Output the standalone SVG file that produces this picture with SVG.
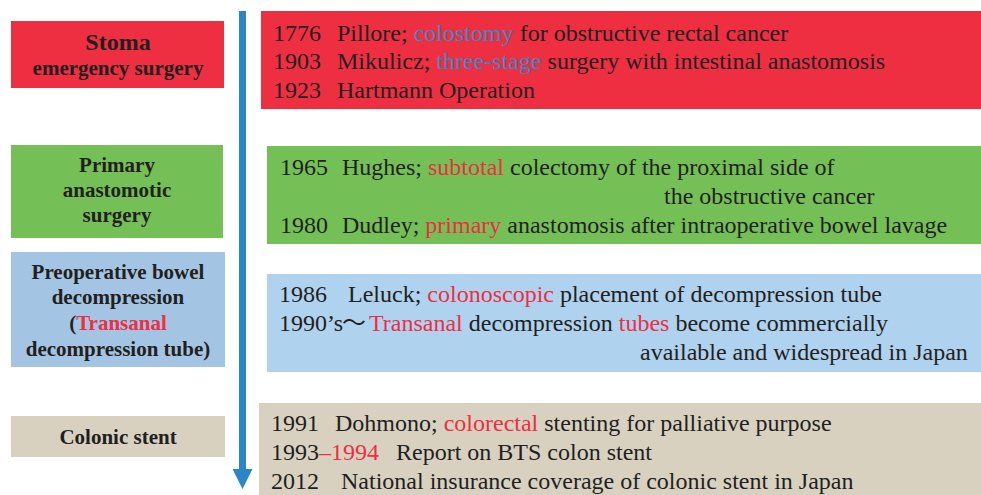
<svg xmlns="http://www.w3.org/2000/svg" width="981" height="495" viewBox="0 0 981 495">
<style>
.lbl{font-family:"Liberation Serif","Times New Roman",serif;font-weight:bold;fill:#231F20;text-anchor:middle;font-size:21px}
.txt{font-family:"Liberation Serif","Times New Roman",serif;fill:#231F20;font-size:24px}
.r{fill:#EE2E42}
.b{fill:#3A86C4}
</style>
<defs>
<marker id="ah" viewBox="0 0 20 20" refX="0" refY="10" markerWidth="20" markerHeight="20" markerUnits="userSpaceOnUse" orient="auto"><path d="M0,0 L20,10 L0,20 Z" fill="#2A86C6"/></marker>
</defs>
<rect width="981" height="495" fill="#FFFFFF"/>
<g id="connectors">
<line x1="242.5" y1="11" x2="242.5" y2="469" stroke="#2A86C6" stroke-width="7" marker-end="url(#ah)"/>
</g>
<g id="stoma">
<rect x="11" y="21" width="213" height="67" fill="#EE2F42"/>
<text class="lbl" x="118" y="50" style="font-size:24px">Stoma</text>
<text class="lbl" x="118" y="75">emergency surgery</text>
</g>
<g id="primary">
<rect x="11" y="145" width="212" height="93" fill="#74BF56"/>
<text class="lbl" x="117" y="172">Primary</text>
<text class="lbl" x="117" y="197">anastomotic</text>
<text class="lbl" x="117" y="222">surgery</text>
</g>
<g id="decompression">
<rect x="11" y="252" width="214" height="115" fill="#A3C5E3"/>
<text class="lbl" x="118" y="279">Preoperative bowel</text>
<text class="lbl" x="118" y="304">decompression</text>
<text class="lbl" x="118" y="330">(<tspan class="r">Transanal</tspan></text>
<text class="lbl" x="118" y="356">decompression tube)</text>
</g>
<g id="stent">
<rect x="11" y="416" width="214" height="41" fill="#D8D1C0"/>
<text class="lbl" x="118" y="444">Colonic stent</text>
</g>
<g id="stoma-events">
<rect x="261" y="11" width="720" height="98" fill="#EE2F42"/>
<text class="txt" x="273" y="41">1776</text>
<text class="txt" x="337" y="41">Pillore; <tspan class="b">colostomy</tspan> for obstructive rectal cancer</text>
<text class="txt" x="273" y="69">1903</text>
<text class="txt" x="337" y="69">Mikulicz; <tspan class="b">three-stage</tspan> surgery with intestinal anastomosis</text>
<text class="txt" x="273" y="98">1923</text>
<text class="txt" x="337" y="98">Hartmann Operation</text>
</g>
<g id="primary-events">
<rect x="267" y="146" width="714" height="98" fill="#74BF56"/>
<text class="txt" x="280" y="175">1965</text>
<text class="txt" x="342" y="175">Hughes; <tspan class="r">subtotal</tspan> colectomy of the proximal side of</text>
<text class="txt" x="664" y="204">the obstructive cancer</text>
<text class="txt" x="280" y="233">1980</text>
<text class="txt" x="342" y="233">Dudley; <tspan class="r">primary</tspan> anastomosis after intraoperative bowel lavage</text>
</g>
<g id="decompression-events">
<rect x="267" y="274" width="714" height="98" fill="#AFD2EF"/>
<text class="txt" x="279" y="302">1986</text>
<text class="txt" x="348" y="302">Leluck; <tspan class="r">colonoscopic</tspan> placement of decompression tube</text>
<text class="txt" x="279" y="331">1990’s</text>
<text class="txt" x="342" y="331" style="font-family:'Noto Sans CJK JP',sans-serif">〜</text>
<text class="txt" x="369" y="331"><tspan class="r">Transanal</tspan> decompression <tspan class="r">tubes</tspan> become commercially</text>
<text class="txt" x="640" y="360">available and widespread in Japan</text>
</g>
<g id="stent-events">
<rect x="259" y="403" width="722" height="92" fill="#D8D1C0"/>
<text class="txt" x="271" y="431">1991</text>
<text class="txt" x="335" y="431">Dohmono; <tspan class="r">colorectal</tspan> stenting for palliative purpose</text>
<text class="txt" x="271" y="460">1993<tspan class="r">–1994</tspan></text>
<text class="txt" x="396" y="460">Report on BTS colon stent</text>
<text class="txt" x="271" y="489">2012</text>
<text class="txt" x="341" y="489">National insurance coverage of colonic stent in Japan</text>
</g>
</svg>
